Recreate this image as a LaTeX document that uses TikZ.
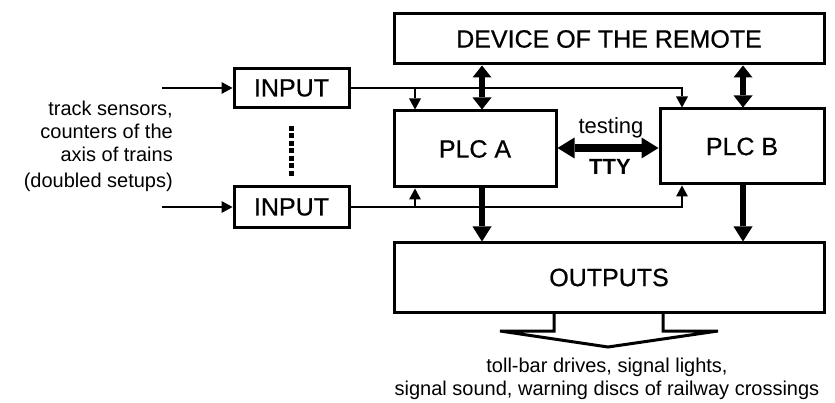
\documentclass[tikz,border=0pt]{standalone}
\usepackage{fontspec}
\setmainfont{Liberation Sans}
\newfontfamily\heavyfont[FakeBold=0.6]{Liberation Sans}
\usetikzlibrary{arrows.meta}
\begin{document}
\begin{tikzpicture}[x=1pt,y=-1pt,
  box/.style={draw, line width=3pt, inner sep=0pt, font=\heavyfont\fontsize{25}{30}\selectfont},
  thinarrow/.style={line width=2.2pt, -{Triangle[length=11pt,width=12pt,line width=0pt]}},
  fatarrow/.style={line width=5.5pt, -{Triangle[length=15pt,width=19pt,line width=0pt]}},
  fatdouble/.style={line width=5.5pt, {Triangle[length=12pt,width=19pt,line width=0pt]}-{Triangle[length=12pt,width=19pt,line width=0pt]}},
  ttyarrow/.style={line width=7.5pt, {Triangle[length=17pt,width=21pt,line width=0pt]}-{Triangle[length=17pt,width=21pt,line width=0pt]}},
  txt/.style={font=\fontsize{20}{23}\selectfont, inner sep=0pt},
  hollow/.style={line width=3pt},
  dots/.style={line width=5pt, dash pattern=on 5pt off 2.5pt}
]
\useasboundingbox (0,0) rectangle (835,403);

% boxes
\node[box, minimum width=430pt, minimum height=50pt] (device) at (609,39) {DEVICE OF THE REMOTE};
\node[box, minimum width=162pt, minimum height=76pt] (plcA) at (475,149) {PLC A};
\node[box, minimum width=164pt, minimum height=75pt] (plcB) at (742,146.5) {PLC B};
\node[box, minimum width=430pt, minimum height=69pt] (outputs) at (609,277.5) {OUTPUTS};
\node[box, minimum width=115pt, minimum height=39pt] (in1) at (291.5,88) {INPUT};
\node[box, minimum width=115pt, minimum height=41pt] (in2) at (291.5,207) {INPUT};

% helper coordinates
\coordinate (xA) at (482,0);
\coordinate (xB) at (743,0);
\coordinate (xa) at (415,0);
\coordinate (xb) at (682,0);
\coordinate (src1) at (162,88);
\coordinate (src2) at (162,207);
\coordinate (tty) at (608,148);
\coordinate (oL) at (554,0);
\coordinate (oR) at (663,0);

% thick connectors
\draw[fatdouble] (device.south -| xA) -- (plcA.north -| xA);
\draw[fatdouble] (device.south -| xB) -- (plcB.north -| xB);
\draw[fatarrow] (plcA.south -| xA) -- (outputs.north -| xA);
\draw[fatarrow] (plcB.south -| xB) -- (outputs.north -| xB);
\draw[ttyarrow] (plcA.east |- tty) -- (plcB.west |- tty);

% input connectors
\draw[thinarrow] (src1) -- (in1.west);
\draw[thinarrow] (src2) -- (in2.west);
\draw[thinarrow] (in1.east) -- (in1.east -| xb) -- (plcB.north -| xb);
\draw[thinarrow] (in1.east -| xa) -- (plcA.north -| xa);
\draw[thinarrow] (in2.east) -- (in2.east -| xb) -- (plcB.south -| xb);
\draw[thinarrow] (in2.east -| xa) -- (plcA.south -| xa);

% dotted line between inputs
\draw[dots] ([yshift=-17pt]in1.south) -- ([yshift=8pt]in2.north);

% hollow output arrow
\draw[hollow] (outputs.south -| oL) -- (554,331) -- (500,331) -- (608,347) -- (718,331) -- (663,331) -- (outputs.south -| oR);

% texts
\node[txt, align=right, anchor=east] (sensors) at (173,146) {track sensors,\\counters of the\\axis of trains\\[3pt](doubled setups)};
\node[txt, align=center] (effects) at (607,379) {toll-bar drives, signal lights,\\signal sound, warning discs of railway crossings};
\node[font=\fontsize{22}{26}\selectfont, inner sep=0pt] (testing) at (611,128) {testing};
\node[font=\bfseries\fontsize{22}{26}\selectfont, inner sep=0pt] (ttylabel) at (610,167) {TTY};
\end{tikzpicture}
\end{document}
